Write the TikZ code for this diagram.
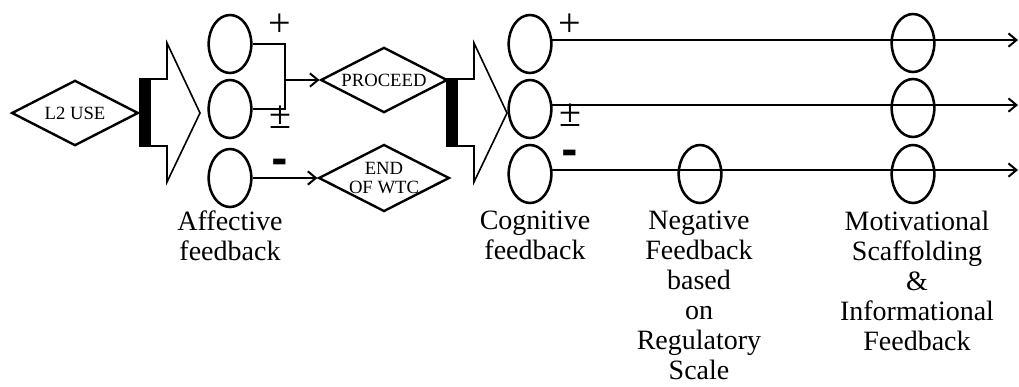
\documentclass[tikz,border=0pt]{standalone}
\usepackage{fontspec}
\setmainfont{Liberation Serif}
\newfontfamily\signfont{DejaVu Sans}
\usetikzlibrary{shapes.geometric,arrows.meta}

\begin{document}
\begin{tikzpicture}[x=0.75pt,y=-0.75pt,
decision/.style={diamond,draw=black,line width=1.8pt,inner sep=0pt,aspect=1.95,minimum width=95pt,minimum height=49pt,align=center,font=\fontsize{14}{14}\selectfont},
stage/.style={ellipse,draw=black,line width=1.9pt,inner sep=0pt,minimum width=32pt,minimum height=43.5pt},
caption/.style={anchor=north,inner sep=0pt,align=center,font=\fontsize{21}{22.5}\selectfont},
sign/.style={anchor=base,inner sep=0pt,text height=0.55em,text depth=0pt,font=\fontsize{30}{30}\selectfont},
minus/.style={anchor=base,inner sep=0pt,text height=0.35em,text depth=0pt,font=\signfont\bfseries\fontsize{30}{30}\selectfont},
link/.style={line width=1.5pt},
flow/.style={link,-{Straight Barb[length=6pt,width=10pt]}}]

\useasboundingbox (0,0) rectangle (1019,386);

% input and the two block arrows
\node[decision] (use) at (75,113) {L2 USE};
\foreach \x in {140,447}{
  \draw[line width=1.2pt,line join=miter] (\x,79) -- ++(27,0) -- ++(0,-36) -- ++(33,70) -- ++(-33,69) -- ++(0,-36) -- (\x,146) -- cycle;
  \fill (\x,79) rectangle ++(11,67);
}

% affective feedback
\node[stage] (a1) at (230,44) {};
\node[stage] (a2) at (230,109) {};
\node[stage] (a3) at (230,178) {};
\node[decision] (proceed) at (384,80) {PROCEED};
\node[decision] (endwtc) at (384,178) {END\\OF WTC};

\coordinate (fork) at (285,80);
\draw[link] (a1.east) -| (fork |- a2.east) -- (a2.east);
\draw[flow] (fork) -- (proceed.west);
\draw[flow] (a3.east) -- (endwtc.west);

\node[sign] (aplus) at (280,36) {+};
\node[sign] (apm) at (280,128) {±};
\node[minus] (aminus) at (280,173) {-};

% cognitive feedback
\node[stage] (c1) at (530,44) {};
\node[stage] (c2) at (530,109) {};
\node[stage] (c3) at (530,174) {};
\node[stage] (n3) at (700,174) {};
\node[stage] (m1) at (913,43) {};
\node[stage] (m2) at (913,108) {};
\node[stage] (m3) at (913,174) {};

\coordinate (out) at (1018,0);
\foreach \r in {1,2,3}
  \draw[flow] (c\r.10) -- (c\r.10 -| out);

\node[sign] (cplus) at (570,36) {+};
\node[sign] (cpm) at (570,126) {±};
\node[minus] (cminus) at (570,164) {-};

% captions
\node[caption] (afftext) at (230,211) {Affective\\feedback};
\node[caption] (cogtext) at (535,211) {Cognitive\\feedback};
\node[caption] (negtext) at (699,211) {Negative\\Feedback\\based\\on\\Regulatory\\Scale};
\node[caption] (mottext) at (917,211) {Motivational\\Scaffolding\\\&\\Informational\\Feedback};

\end{tikzpicture}
\end{document}
